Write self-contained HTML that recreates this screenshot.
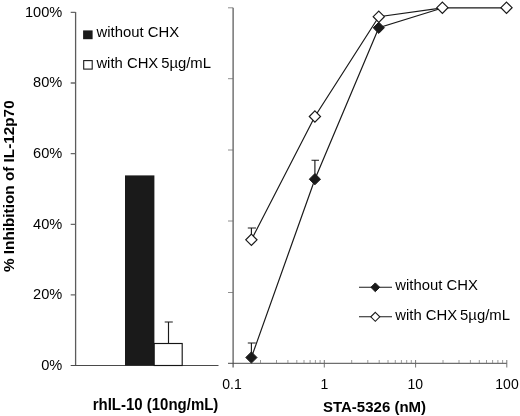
<!DOCTYPE html>
<html>
<head>
<meta charset="utf-8">
<title>Inhibition of IL-12p70</title>
<style>
html,body{margin:0;padding:0;background:#fff;}
body{width:520px;height:416px;overflow:hidden;}
svg{display:block;}
text{font-family:"Liberation Sans",sans-serif;fill:#000;}
.tick{font-size:14.6px;}
.leg{font-size:15px;}
.ttl{font-size:15px;font-weight:bold;}
.ax{stroke:#4a4a4a;stroke-width:1;fill:none;}
.tk{stroke:#686868;stroke-width:1.3;}
.ln{stroke:#1a1a1a;stroke-width:1.2;fill:none;}
.eb{stroke:#1a1a1a;stroke-width:1.15;fill:none;}
</style>
</head>
<body>
<svg width="520" height="416" viewBox="0 0 520 416">
<rect x="0" y="0" width="520" height="416" fill="#ffffff"/>

<!-- LEFT CHART axes -->
<g class="ax">
<path d="M75.6 12 V365.5" style="stroke:#5c5c5c;stroke-width:1.3"/>
<path d="M70.7 365.5 H218.5"/>
<path class="tk" d="M70.7 12.4 H75.5 M70.7 83 H75.5 M70.7 153.7 H75.5 M70.7 224.3 H75.5 M70.7 294.9 H75.5"/>
</g>
<!-- y tick labels -->
<g class="tick" text-anchor="end">
<text x="62.3" y="16.5">100%</text>
<text x="62.3" y="87.2">80%</text>
<text x="62.3" y="157.9">60%</text>
<text x="62.3" y="228.6">40%</text>
<text x="62.3" y="299.3">20%</text>
<text x="62.3" y="370">0%</text>
</g>
<!-- y title -->
<text class="ttl" style="font-size:15.3px" transform="translate(14,186.2) rotate(-90)" text-anchor="middle">% Inhibition of IL-12p70</text>

<!-- bars -->
<rect x="125" y="175.4" width="29.4" height="190.1" fill="#1a1a1a"/>
<rect x="154.2" y="343.5" width="28" height="22" fill="#fff" stroke="#151515" stroke-width="1.15"/>
<path class="eb" d="M168.5 343.5 V322 M164.7 322 H172.8"/>

<!-- left legend -->
<rect x="83.1" y="30.4" width="9.5" height="8.8" fill="#1a1a1a"/>
<rect x="83.7" y="60.6" width="8.5" height="8.5" fill="#fff" stroke="#1a1a1a" stroke-width="1.1"/>
<text class="leg" x="96.6" y="37.4" style="font-size:14.85px">without CHX</text>
<text class="leg" x="96.4" y="67.5" style="font-size:14.85px">with CHX<tspan dx="-1.2"> 5µg/mL</tspan></text>
<text class="ttl" transform="translate(155.5,410.4) scale(1,1.06)" text-anchor="middle">rhIL-10 (10ng/mL)</text>

<!-- RIGHT CHART axes -->
<g class="ax">
<path d="M233.1 7.7 V367.5" style="stroke-width:1.15"/>
<path d="M228 363.3 H506.8"/>
<path d="M228 7.8 H233 M228 78.7 H233 M228 150 H233 M228 221 H233 M228 292.5 H233" style="stroke:#6a6a6a;stroke-width:0.75"/>
<path d="M324.3 360 V367.5 M415.6 360 V367.5 M506.8 360 V367.5" style="stroke:#666;stroke-width:0.9"/>
<path d="M260.5 360 V363 M276.5 360 V363 M287.9 360 V363 M296.8 360 V363 M304.0 360 V363 M310.1 360 V363 M315.4 360 V363 M320.1 360 V363 M351.7 360 V363 M367.8 360 V363 M379.2 360 V363 M388.0 360 V363 M395.3 360 V363 M401.4 360 V363 M406.7 360 V363 M411.3 360 V363 M443.0 360 V363 M459.0 360 V363 M470.4 360 V363 M479.3 360 V363 M486.5 360 V363 M492.6 360 V363 M497.9 360 V363 M502.6 360 V363" style="stroke:#808080;stroke-width:0.8"/>
</g>
<g class="tick" text-anchor="middle" style="font-size:14px">
<text x="232" y="389.1">0.1</text>
<text x="324.3" y="389.1">1</text>
<text x="415.3" y="389.1">10</text>
<text x="507" y="389.1">100</text>
</g>
<text class="ttl" transform="translate(374.5,411.5) scale(1,1.0)" text-anchor="middle">STA-5326 (nM)</text>

<!-- data lines -->
<path class="ln" d="M251.4 357.5 L314.9 179.2 L378.8 27.8 L442.4 8"/>
<path class="ln" d="M251.4 239.8 L314.9 116.5 L378.8 16.7 L442.4 7.8 L506.5 7.9"/>
<!-- error bars -->
<path class="eb" d="M251.4 357.5 V343 M247.8 343 H255.8"/>
<path class="eb" d="M251.4 239.8 V228 M247.8 228 H256"/>
<path class="eb" d="M314.9 179.2 V160.2 M311.5 160.2 H319"/>
<!-- markers -->
<g fill="#1a1a1a" stroke="#1a1a1a" stroke-width="1">
<path d="M251.4 351.9 L257 357.5 L251.4 363.1 L245.8 357.5Z"/>
<path d="M314.9 173.6 L320.5 179.2 L314.9 184.8 L309.3 179.2Z"/>
<path d="M378.8 22.2 L384.4 27.8 L378.8 33.4 L373.2 27.8Z"/>
</g>
<g fill="#fff" stroke="#1a1a1a" stroke-width="1.2">
<path d="M251.4 234.2 L257 239.8 L251.4 245.4 L245.8 239.8Z"/>
<path d="M314.9 110.9 L320.5 116.5 L314.9 122.1 L309.3 116.5Z"/>
<path d="M378.8 11.1 L384.4 16.7 L378.8 22.3 L373.2 16.7Z"/>
<path d="M442.4 2.1 L448 7.7 L442.4 13.3 L436.8 7.7Z"/>
<path d="M506.5 2.1 L512.1 7.7 L506.5 13.3 L500.9 7.7Z"/>
</g>

<!-- right legend -->
<path class="ln" d="M359 287.3 H392" style="stroke-width:1.1"/>
<path d="M375.3 282.9 L379.7 287.3 L375.3 291.7 L370.9 287.3Z" fill="#1a1a1a" stroke="#1a1a1a" stroke-width="1"/>
<path class="ln" d="M359 316.8 H392" style="stroke-width:1.1"/>
<path d="M375.3 312.3 L379.8 316.8 L375.3 321.3 L370.8 316.8Z" fill="#fff" stroke="#1a1a1a" stroke-width="1.1"/>
<text class="leg" x="395.3" y="289.8" style="font-size:14.85px">without CHX</text>
<text class="leg" x="395.3" y="320" style="font-size:14.85px">with CHX<tspan dx="-1.2"> 5µg/mL</tspan></text>
</svg>
</body>
</html>
